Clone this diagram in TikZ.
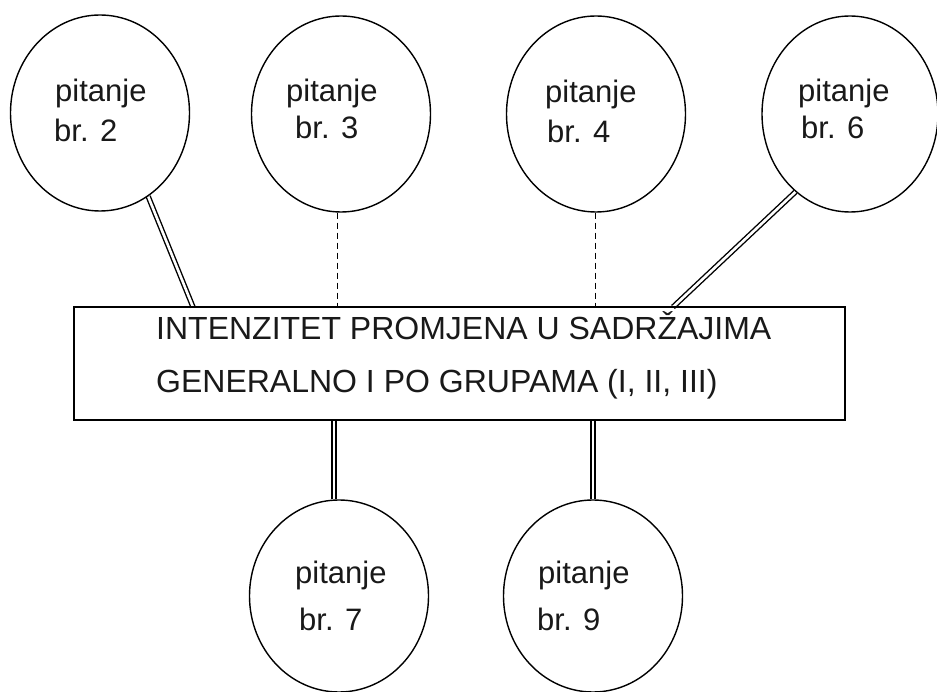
\documentclass[tikz,border=0pt]{standalone}
\usepackage{fontspec}
\setmainfont{Liberation Sans}
\usetikzlibrary{shapes.geometric,backgrounds}
\begin{document}
\begin{tikzpicture}[x=1pt,y=-1pt,
  bubble/.style={draw=black,line width=1.4pt,ellipse,inner sep=0pt,minimum width=179pt,minimum height=196pt},
  mainbox/.style={draw=black,line width=1.6pt,rectangle,inner sep=0pt,minimum width=771pt,minimum height=113pt},
  lbl/.style={anchor=base west,inner sep=0pt,font=\fontsize{31}{38}\selectfont,text=black!90},
  boxlbl/.style={anchor=base west,inner sep=0pt,font=\fontsize{32}{38}\selectfont,text=black!90},
  dbl/.style={draw=black,line width=1.4pt,double=white,double distance=2.6pt},
  dsh/.style={draw=black,line width=0.7pt,dash pattern=on 6pt off 4pt}]
\useasboundingbox (0,0) rectangle (937,692);
% bubbles
\node[bubble] (c2) at (100,113) {};
\node[bubble] (c3) at (341,114) {};
\node[bubble] (c4) at (596,114) {};
\node[bubble,minimum width=176pt] (c6) at (850,114) {};
\node[bubble,minimum height=192pt] (c7) at (339,596) {};
\node[bubble,minimum height=192pt] (c9) at (593,596) {};
% main box
\node[mainbox] (box) at (459.5,363.5) {};
% labels
\node[lbl] (t2a) at (55,102) {pitanje};
\node[lbl] (t2b) at (54,142) {br. 2};
\node[lbl] (t3a) at (286,102) {pitanje};
\node[lbl] (t3b) at (295,139) {br. 3};
\node[lbl] (t4a) at (545,103) {pitanje};
\node[lbl] (t4b) at (547,143) {br. 4};
\node[lbl] (t6a) at (798,102) {pitanje};
\node[lbl] (t6b) at (801,139) {br. 6};
\node[lbl] (t7a) at (295,583) {pitanje};
\node[lbl] (t7b) at (299,630) {br. 7};
\node[lbl] (t9a) at (538,583) {pitanje};
\node[lbl] (t9b) at (537,630) {br. 9};
\node[boxlbl] (m1) at (156,340) {INTENZITET PROMJENA U SADRŽAJIMA};
\node[boxlbl] (m2) at (156,393) {GENERALNO I PO GRUPAMA (I, II, III)};
% connector end points on the box
\coordinate (e2) at (193,307);
\coordinate (e3) at (337,307);
\coordinate (e4) at (595,307);
\coordinate (e6) at (673,307);
\coordinate (e7) at (334,420);
\coordinate (e9) at (593,420);
\begin{pgfonlayer}{background}
\fill[white] (0,0) rectangle (937,692);
\draw[dbl] (c2.-60) -- (e2);
\draw[dbl] (c6.-125) -- (e6);
\draw[dsh] (e3 |- c3.south) -- (e3);
\draw[dsh] (e4 |- c4.south) -- (e4);
\draw[dbl] (e7) -- (e7 |- c7.north);
\draw[dbl] (e9) -- (e9 |- c9.north);
\end{pgfonlayer}
\end{tikzpicture}
\end{document}
